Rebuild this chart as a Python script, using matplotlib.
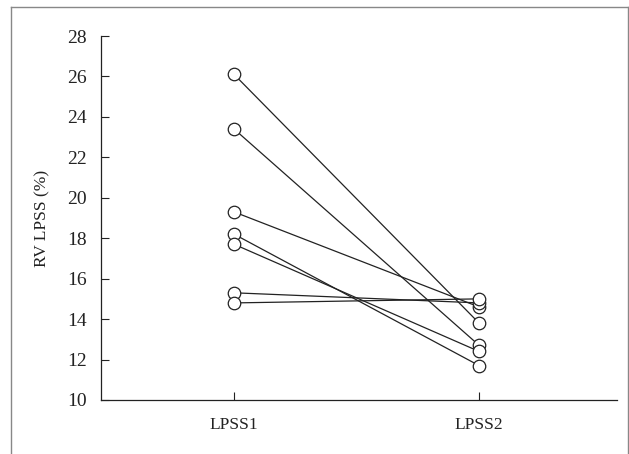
import matplotlib.pyplot as plt
from matplotlib.lines import Line2D

plt.rcParams['font.family'] = ['Liberation Serif', 'DejaVu Serif']

groups = ['LPSS1', 'LPSS2']
lpss1 = [26.1, 23.4, 19.3, 18.2, 17.7, 15.3, 14.8]
lpss2 = [13.8, 12.7, 14.6, 11.7, 12.4, 14.8, 15.0]
yticks = [10, 12, 14, 16, 18, 20, 22, 24, 26, 28]

fig = plt.figure(figsize=(6.29, 4.54), dpi=100)
ax = fig.add_axes([0.1606, 0.119, 0.8204, 0.8017])

xs = [1, 2]
for a, b in zip(lpss1, lpss2):
    ax.plot(xs, [a, b], color='#222222', lw=0.9, zorder=2)
for a, b in zip(lpss1, lpss2):
    ax.plot(xs, [a, b], 'o', ms=9, mfc='white', mec='#222222', mew=0.9, zorder=3)

ax.set_xlim(0.457, 2.563)
ax.set_ylim(10, 28)
ax.set_xticks(xs)
ax.set_xticklabels(groups)
ax.set_yticks(yticks)
ax.tick_params(direction='in', length=6, width=0.8, colors='#222222')
ax.tick_params(axis='y', labelsize=14, pad=10)
ax.tick_params(axis='x', labelsize=12.5, pad=12)
for s in ['top', 'right']:
    ax.spines[s].set_visible(False)
for s in ['left', 'bottom']:
    ax.spines[s].set_linewidth(0.9)
    ax.spines[s].set_color('#222222')
ax.set_ylabel('RV LPSS (%)', fontsize=12.5, color='#222222', labelpad=12)

# outer frame (open at the bottom)
fx0, fx1, fy1 = 11 / 629, 627.5 / 629, 1 - 7 / 454
for xd, yd in [([fx0, fx0], [0, fy1]), ([fx0, fx1], [fy1, fy1]), ([fx1, fx1], [fy1, 0])]:
    fig.add_artist(Line2D(xd, yd, transform=fig.transFigure, color='#888888', lw=1.0))

fig.savefig('out.png', dpi=100)
